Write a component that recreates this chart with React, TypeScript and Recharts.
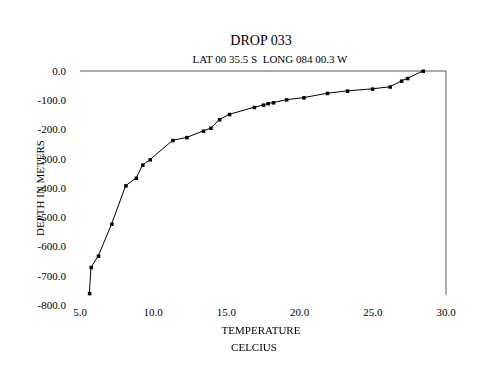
import { LineChart, Line, XAxis, YAxis, ReferenceLine } from "recharts";

// temperature (C) and depth (m), surface last
const temps = [
  5.64, 5.75, 6.25, 7.16, 8.12, 8.83, 9.28, 9.78, 11.33, 12.29, 13.42, 13.93,
  14.52, 15.2, 16.9, 17.52, 17.84, 18.2, 19.1, 20.28, 21.89, 23.26, 24.97,
  26.17, 26.95, 27.36, 28.43,
];
const depths = [
  -760, -671, -632, -523, -392, -366, -321, -303, -237, -227, -205, -195,
  -166, -148, -124, -116, -111, -108, -98, -91, -76, -68, -61, -54, -34, -25, 0,
];
const xTicks = [5, 10, 15, 20, 25, 30];
const yTicks = [0, -100, -200, -300, -400, -500, -600, -700, -800];

const data = temps.map((t, i) => ({ temp: t, depth: depths[i] }));

const font = "'Liberation Serif', 'Times New Roman', serif";

const SquareDot = (props: any) => {
  const { cx, cy } = props;
  if (cx == null || cy == null) return null;
  return <rect x={cx - 1.5} y={cy - 1.5} width={3.5} height={3.5} fill="#000" />;
};

export default function App() {
  return (
    <div
      style={{
        position: "fixed",
        left: 0,
        top: 0,
        width: 500,
        height: 386,
        background: "#fff",
        fontFamily: font,
        color: "#000",
      }}
    >
      <div style={{ position: "absolute", left: 0, width: 522, top: 33, textAlign: "center", fontSize: 14 }}>
        DROP 033
      </div>
      <div style={{ position: "absolute", left: 0, width: 540, top: 53, textAlign: "center", fontSize: 11 }}>
        LAT 00 35.5 S&nbsp;&nbsp;LONG 084 00.3 W
      </div>
      <LineChart
        width={500}
        height={386}
        data={data}
        margin={{ top: 71, right: 54, bottom: 51, left: 20 }}
      >
        <XAxis
          type="number"
          dataKey="temp"
          domain={[5, 30]}
          ticks={xTicks}
          tickFormatter={(v) => v.toFixed(1)}
          axisLine={false}
          tickLine={false}
          tickMargin={-3}
          height={30}
          tick={{ fill: "#000", fontSize: 11, fontFamily: font }}
        />
        <YAxis
          type="number"
          domain={[-800, 0]}
          ticks={yTicks}
          tickFormatter={(v) => v.toFixed(1)}
          axisLine={false}
          tickLine={false}
          tickMargin={8}
          width={60}
          tick={{ fill: "#000", fontSize: 11, fontFamily: font }}
        />
        <ReferenceLine y={0} stroke="#555" strokeWidth={1} />
        <ReferenceLine
          segment={[{ x: 30, y: 0 }, { x: 30, y: -765 }]}
          stroke="#555"
          strokeWidth={1}
        />
        <Line
          dataKey="depth"
          stroke="#000"
          strokeWidth={1}
          dot={<SquareDot />}
          activeDot={false}
          isAnimationActive={false}
        />
      </LineChart>
      <div style={{ position: "absolute", left: 0, width: 522, top: 324, textAlign: "center", fontSize: 11 }}>
        TEMPERATURE
      </div>
      <div style={{ position: "absolute", left: 0, width: 508, top: 341, textAlign: "center", fontSize: 11 }}>
        CELCIUS
      </div>
      <div
        style={{
          position: "absolute",
          left: 40,
          top: 188,
          fontSize: 11,
          whiteSpace: "nowrap",
          transform: "translate(-50%, -50%) rotate(-90deg)",
        }}
      >
        DEPTH IN METERS
      </div>
    </div>
  );
}
